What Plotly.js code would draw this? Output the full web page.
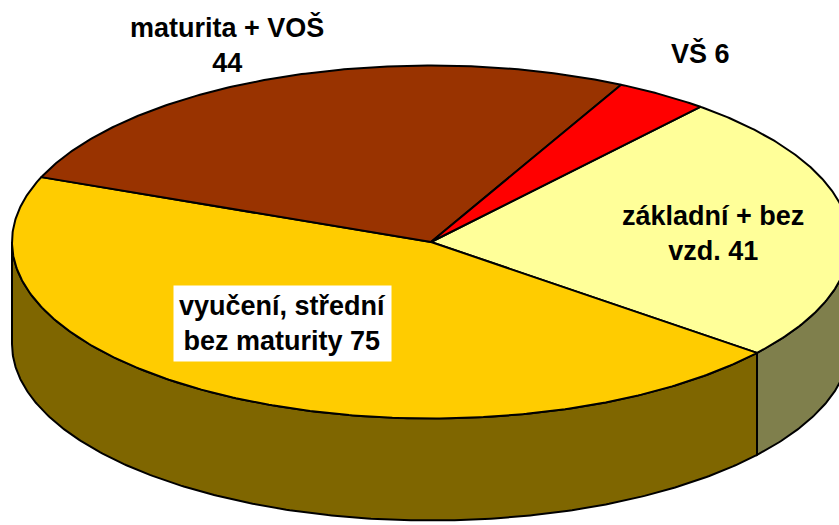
<!DOCTYPE html>
<html>
<head>
<meta charset="utf-8">
<script src="https://cdn.plot.ly/plotly-3.0.1.min.js"></script>
<style>html,body{margin:0;padding:0;background:#fff;}#chart{width:839px;height:525px;}</style>
</head>
<body>
<div id="chart"></div>
<script>
// ---- data ----
var categories = ["základní + bez vzd.", "vyučení, střední bez maturity", "maturita + VOŠ", "VŠ"];
var values = [41, 75, 44, 6];
var labelTexts = ["základní + bez<br>vzd. 41", "vyučení, střední<br>bez maturity 75", "maturita + VOŠ<br>44", "VŠ 6"];
var topColors = ["#FFFF99", "#FFCC00", "#993300", "#FF0000"];
var sideColors = ["#7F7F4C", "#7F6600", "#4C1900", "#7F0000"];

// ---- 3D pie geometry (drawing settings) ----
var geo = {cx: 431, cy: 242, rx: 419, ry: 176.5, depth: 102, startAngle: 50};

function pt(tDeg, dy) {
  var t = tDeg * Math.PI / 180;
  return [geo.cx + geo.rx * Math.cos(t), geo.cy - geo.ry * Math.sin(t) + (dy || 0)];
}
function arc(a, b, dy) { // from angle a to angle b (degrees)
  var n = Math.max(2, Math.ceil(Math.abs(b - a) * 2));
  var xs = [], ys = [];
  for (var i = 0; i <= n; i++) {
    var p = pt(a + (b - a) * i / n, dy);
    xs.push(p[0]); ys.push(p[1]);
  }
  return [xs, ys];
}

var total = values.reduce(function (s, v) { return s + v; }, 0);
var slices = [];
var cur = geo.startAngle;
values.forEach(function (v, i) {
  var sweep = v / total * 360;
  slices.push({i: i, t0: cur, t1: cur - sweep}); // clockwise
  cur -= sweep;
});

var traces = [];
// side walls (front half only)
slices.forEach(function (s) {
  for (var k = -1; k <= 1; k++) {
    var lo = Math.max(s.t1, -180 + 360 * k);
    var hi = Math.min(s.t0, 360 * k);
    if (hi - lo > 0.01) {
      var top = arc(hi, lo, 0);
      var bot = arc(lo, hi, geo.depth);
      var xs = top[0].concat(bot[0]); xs.push(top[0][0]);
      var ys = top[1].concat(bot[1]); ys.push(top[1][0]);
      traces.push({type: "scatter", mode: "lines", x: xs, y: ys, fill: "toself",
        fillcolor: sideColors[s.i], line: {color: "#000", width: 2}, hoverinfo: "skip",
        name: categories[s.i]});
    }
  }
});
// top faces
slices.forEach(function (s) {
  var a = arc(s.t0, s.t1, 0);
  var xs = [geo.cx].concat(a[0]); xs.push(geo.cx);
  var ys = [geo.cy].concat(a[1]); ys.push(geo.cy);
  traces.push({type: "scatter", mode: "lines", x: xs, y: ys, fill: "toself",
    fillcolor: topColors[s.i], line: {color: "#000", width: 2, join: "round"}, hoverinfo: "skip",
    name: categories[s.i]});
});

var lblFont = {family: "Liberation Sans, Arial, sans-serif", size: 27, color: "#000"};
var annotations = [
  {x: 713, y: 233, text: "<b>" + labelTexts[0] + "</b>"},
  {x: 282, y: 323, text: "<b>" + labelTexts[1] + "</b>", bgcolor: "#FFFFFF", borderpad: 5},
  {x: 227, y: 45, text: "<b>" + labelTexts[2] + "</b>"},
  {x: 700, y: 53, text: "<b>" + labelTexts[3] + "</b>"}
].map(function (a) {
  return Object.assign({xref: "x", yref: "y", showarrow: false, font: lblFont,
    xanchor: "center", yanchor: "middle", align: "center"}, a);
});

var layout = {
  width: 839, height: 525,
  margin: {l: 0, r: 0, t: 0, b: 0},
  paper_bgcolor: "#fff", plot_bgcolor: "#fff",
  showlegend: false,
  xaxis: {range: [0, 839], visible: false, fixedrange: true},
  yaxis: {range: [525, 0], visible: false, fixedrange: true},
  annotations: annotations
};
Plotly.newPlot("chart", traces, layout, {staticPlot: true, displayModeBar: false});
</script>
</body>
</html>
